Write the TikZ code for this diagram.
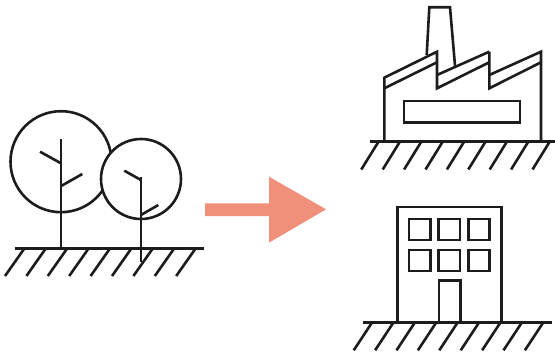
\documentclass[tikz,border=0pt]{standalone}
\usepackage{xcolor}
\definecolor{arrowsalmon}{HTML}{F08F7A}
\definecolor{inkblack}{HTML}{1C1C1C}
\begin{document}
\begin{tikzpicture}[
    x=0.75pt, y=-0.75pt,
    ink/.style={draw=inkblack, line width=1.95pt},
    ground/.style={ink, line width=2.1pt}
]
\useasboundingbox (0,0) rectangle (555,356);

% Trees: ground
\draw[ground] (14.7,248.7) -- (203.7,248.7);
\foreach \x in {0,...,8}
    \draw[ink] (24+21.4*\x,249) -- (5+21.4*\x,276);

% Trees: big one
\draw[ink] (61,161.7) circle (50.5);
\draw[ink] (61,139) -- (61,246.7);
\draw[ink] (40,151.7) -- (61,163.3);
\draw[ink] (61.7,185.7) -- (82.3,174);

% Trees: small one
\draw[ink, fill=white] (141,179) circle (40);
\draw[ink] (141,177.3) -- (141,262.3);
\draw[ink] (124.3,170.7) -- (141,180);
\draw[ink] (141,215) -- (158.3,205);

% Arrow
\fill[arrowsalmon] (205,203.3) -- (269,203.3) -- (269,176.7) -- (326,209.3)
    -- (269,242.7) -- (269,216) -- (205,216) -- cycle;

% Factory: ground
\draw[ground] (370,141.7) -- (555,141.7);
\foreach \x in {0,...,8}
    \draw[ink] (378.3+21.4*\x,142) -- (361.3+21.4*\x,169.5);

% Factory: body
\draw[ink] (384.3,141.7) -- (384.3,77.7) -- (437,51.7) -- (437,88.3)
    -- (489.3,62.3);
\draw[ink] (541,141.7) -- (541,51.7) -- (489.3,75);
\draw[ink] (489.3,51.7) -- (437,75);
\draw[ink] (489.3,51.7) -- (489.3,88.3) -- (541,62.3);
\draw[ink] (384.3,88.3) -- (437,62.3);

% Factory: chimney and window
\draw[ink] (426.7,55) -- (429.3,7.3) -- (450,7.3) -- (455,65.7);
\draw[ink] (404,101) rectangle (520,122.3);

% Building: ground
\draw[ground] (363,322.3) -- (552,322.3);
\foreach \x in {0,...,8}
    \draw[ink] (371.7+21.4*\x,323) -- (353.7+21.4*\x,350.3);

% Building: body
\draw[ink] (397.3,322.3) -- (397.3,207) -- (501.7,207) -- (501.7,322.3);
\draw[ink] (439,322.3) -- (439,280.7) -- (460.3,280.7) -- (460.3,322.3);

% Building: windows
\foreach \x in {409,438.7,468.3}
    \foreach \y in {219,250}
        \draw[ink] (\x,\y) rectangle ++(21.4,20.8);
\end{tikzpicture}
\end{document}
